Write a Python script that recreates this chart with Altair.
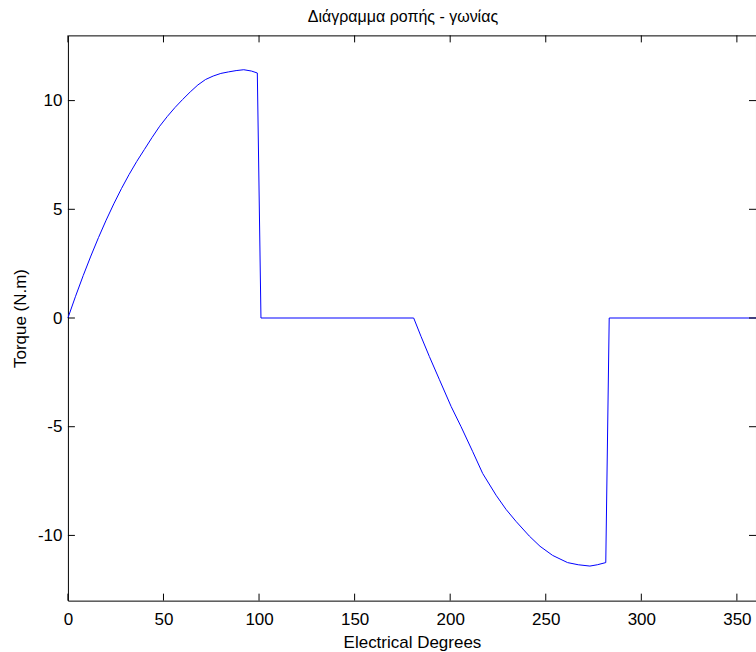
import altair as alt
import pandas as pd

# Data
deg = [0, 4, 8, 12, 16, 20, 24, 28, 32, 36, 40, 44, 48, 52, 56, 60, 64, 68, 72, 76,
       80, 84, 88, 92, 96, 99.1, 101.0,
       180.9, 184.8, 189.1, 194.4, 200.5, 205.7, 211.8, 217.0, 224.0, 229.2, 234.4,
       241.4, 247.0, 253.6, 261.4, 267.0, 273.1, 277.0, 281.4, 283.2, 360.0]
torque = [0, 1.0, 1.95, 2.85, 3.7, 4.5, 5.25, 5.95, 6.6, 7.2, 7.75, 8.3, 8.82, 9.27,
          9.68, 10.05, 10.4, 10.72, 10.97, 11.13, 11.25, 11.32, 11.38, 11.42, 11.36,
          11.27, 0,
          0, -0.86, -1.77, -2.84, -4.07, -5.0, -6.15, -7.15, -8.15, -8.8, -9.35,
          -10.03, -10.5, -10.92, -11.25, -11.35, -11.41, -11.35, -11.25, 0, 0]

x_ticks = [0, 50, 100, 150, 200, 250, 300, 350]
y_ticks = [-10, -5, 0, 5, 10]

W, H = 689, 566
FONT = "Liberation Sans"
FS = 17

df = pd.DataFrame({"deg": deg, "torque": torque})
xt = pd.DataFrame({"deg": x_ticks})
yt = pd.DataFrame({"torque": y_ticks})

xs = alt.Scale(domain=[0, 360], nice=False, zero=False)
ys = alt.Scale(domain=[-13, 13], nice=False, zero=False)

xaxis = alt.Axis(values=x_ticks, tickSize=0, domain=False, grid=False,
                 labelPadding=11, titlePadding=7, labelFontSize=FS,
                 titleFontSize=FS, titleFontWeight="normal",
                 labelFont=FONT, titleFont=FONT, labelExpr="'' + datum.value",
                 labelColor="black", titleColor="black", labelFlush=False)
yaxis = alt.Axis(values=y_ticks, tickSize=0, domain=False, grid=False,
                 labelPadding=6, titlePadding=8, labelFontSize=FS,
                 titleFontSize=FS, titleFontWeight="normal",
                 labelFont=FONT, titleFont=FONT, labelExpr="'' + datum.value",
                 labelColor="black", titleColor="black")

X = alt.X("deg:Q", scale=xs, title="Electrical Degrees", axis=xaxis)
Y = alt.Y("torque:Q", scale=ys, title="Torque (N.m)", axis=yaxis)

line = alt.Chart(df).mark_line(color="#0000ff", strokeWidth=1).encode(x=X, y=Y)

tick_len = 7
bottom = alt.Chart(xt).mark_rule(color="black", strokeWidth=1).encode(
    x=X, y=alt.value(H), y2=alt.value(H - tick_len))
top = alt.Chart(xt).mark_rule(color="black", strokeWidth=1).encode(
    x=X, y=alt.value(0), y2=alt.value(tick_len))
left = alt.Chart(yt).mark_rule(color="black", strokeWidth=1).encode(
    y=Y, x=alt.value(0), x2=alt.value(tick_len))
right = alt.Chart(yt).mark_rule(color="black", strokeWidth=1).encode(
    y=Y, x=alt.value(W), x2=alt.value(W - tick_len))

chart = alt.layer(line, bottom, top, left, right).properties(
    width=W, height=H,
    title=alt.Title("Διάγραμμα ροπής - γωνίας", font=FONT, fontSize=16,
                    fontWeight="normal", color="black", offset=10, dx=-9),
    autosize=alt.AutoSizeParams(type="none"),
    padding={"left": 68, "top": 35, "right": 0, "bottom": 51},
    background="white",
).configure_view(stroke="black", strokeWidth=1)

chart.save("out.html", embed_options={"renderer": "svg", "actions": False})
